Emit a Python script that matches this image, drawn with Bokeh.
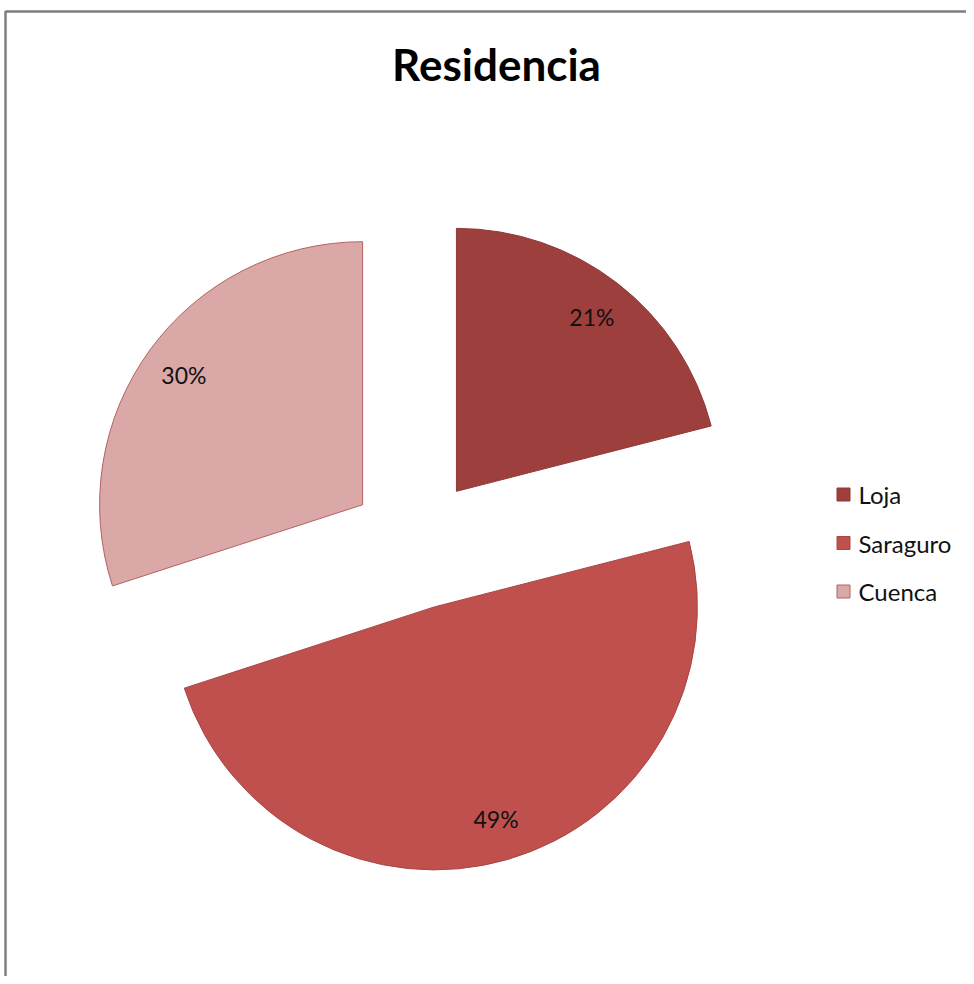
import numpy as np
from bokeh.plotting import figure
from bokeh.models import Range1d, BoxAnnotation, ColumnDataSource
from bokeh.core.properties import value
from bokeh.embed import file_html
from bokeh.resources import INLINE

# ---- data ----
title_text = "Residencia"
categories = ["Loja", "Saraguro", "Cuenca"]
percentages = [21, 49, 30]
colors = ["#9C3F3D", "#C0504D", "#D9A8A7"]
edge_colors = ["#8F3937", "#A94644", "#B56260"]

# ---- layout (canvas pixel coordinates) ----
W, H = 966, 976


def Y(py):
    return H - py


cx, cy = 415.5, Y(543)
R = 263
explode = 66
label_r = 0.84 * R

frac = np.array(percentages, dtype=float) / sum(percentages)
cum_end = np.cumsum(frac)
cum_start = cum_end - frac
mid = (cum_start + cum_end) / 2 * 2 * np.pi
start_angle = np.pi / 2 - 2 * np.pi * cum_end
end_angle = np.pi / 2 - 2 * np.pi * cum_start
xs = cx + explode * np.sin(mid)
ys = cy + explode * np.cos(mid)
lx = xs + label_r * np.sin(mid)
ly = ys + label_r * np.cos(mid)

src = ColumnDataSource(dict(
    x=xs, y=ys, sa=start_angle, ea=end_angle, fill=colors, edge=edge_colors,
    lx=lx, ly=ly, lab=[f"{v}%" for v in percentages], cat=categories,
))

p = figure(width=W, height=H, output_backend="svg", toolbar_location=None,
           x_range=Range1d(0, W), y_range=Range1d(0, H),
           min_border=0, background_fill_color="white", border_fill_color="white")
p.axis.visible = False
p.grid.visible = False
p.outline_line_color = None

# chart frame (only top and left visible in the original crop)
p.add_layout(BoxAnnotation(left=5, right=1200, top=Y(11), bottom=-200,
                           fill_color=None, fill_alpha=0, line_color="#7F7F7F",
                           line_alpha=1.0, line_width=2.5))

p.wedge(x="x", y="y", radius=R, start_angle="sa", end_angle="ea",
        direction="anticlock", fill_color="fill", line_color="edge",
        line_width=1, source=src)

p.text(x="lx", y="ly", text="lab", source=src, text_align="center",
       text_baseline="middle", text_font=value("Lato"), text_font_size="23px",
       text_color="#111111")

# title
p.text(x=[496], y=[Y(63)], text=[title_text], text_align="center",
       text_baseline="middle", text_font=value("Lato"), text_font_style="bold",
       text_font_size="44px", text_color="#000000")

# legend
leg_y = [Y(494 + 48.5 * i) for i in range(len(categories))]
leg_src = ColumnDataSource(dict(x=[843] * len(categories), tx=[858] * len(categories),
                                y=leg_y, fill=colors, edge=edge_colors, cat=categories))
p.scatter(x="x", y="y", marker="square", size=13, fill_color="fill",
          line_color="edge", line_width=1, source=leg_src)
p.text(x="tx", y="y", text="cat", source=leg_src, text_align="left",
       text_baseline="middle", text_font=value("Lato"), text_font_size="24px",
       text_color="#111111")

open("out.html", "w").write(file_html(p, INLINE))
